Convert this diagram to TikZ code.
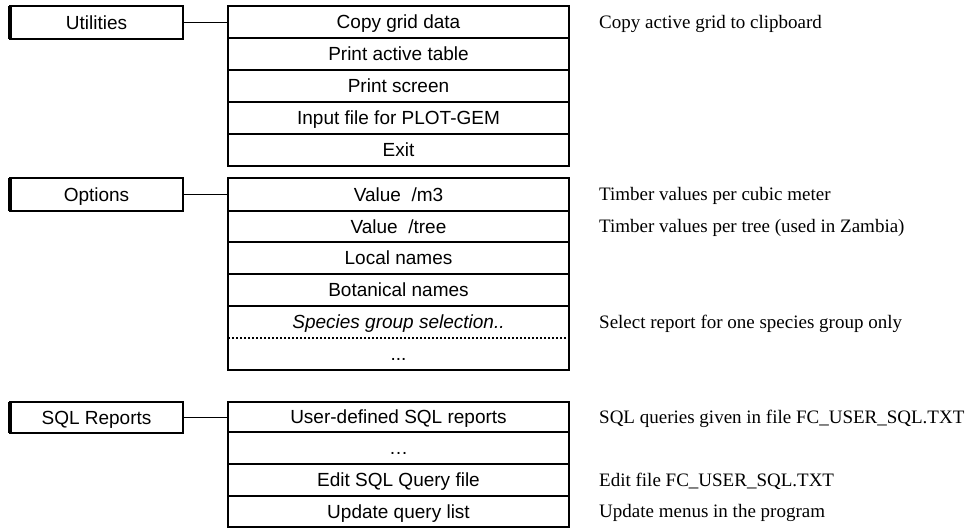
\documentclass[tikz,border=0pt]{standalone}
\usepackage{fontspec}
\setmainfont{Liberation Serif}
\setsansfont{Liberation Sans}
\tikzset{
  catbox/.style={draw, line width=1.6pt, minimum width=173pt, inner sep=0pt, outer sep=0pt,
    text height=13.6pt, text depth=0pt, font=\sffamily\fontsize{19}{22}\selectfont},
  menuitem/.style={draw, line width=1.5pt, minimum width=341pt, inner sep=0pt, outer sep=0pt,
    text height=13.6pt, text depth=0pt, font=\sffamily\fontsize{19}{22}\selectfont},
  note/.style={anchor=west, inner sep=0pt, text height=12.6pt, text depth=0pt,
    font=\fontsize{19}{22}\selectfont},
  link/.style={line width=1.1pt},
  thickedge/.style={line width=3.6pt},
}
\begin{document}
\begin{tikzpicture}[x=1pt,y=-1pt]
  \useasboundingbox (0,0) rectangle (976,529);
  % Utilities
  \node[catbox, minimum height=33pt] (util) at (96.5,22.5) {Utilities};
  \node[menuitem, minimum height=32pt] (copy) at (398.5,22) {Copy grid data};
  \node[menuitem, minimum height=32pt] (ptable) at (398.5,54) {Print active table};
  \node[menuitem, minimum height=32pt] (pscreen) at (398.5,86) {Print screen};
  \node[menuitem, minimum height=32pt] (plotgem) at (398.5,118) {Input file for PLOT-GEM};
  \node[menuitem, minimum height=32pt] (exit) at (398.5,150) {Exit};
  \draw[thickedge] (util.north west) -- (util.south west);
  \draw[line width=2.6pt] (copy.north west) -- (exit.south west);
  \draw[link] (util.east) -- (util.east -| copy.west);
  \node[note] (n-copy) at (599,22) {Copy active grid to clipboard};
  % Options
  \node[catbox, minimum height=33pt] (opt) at (96.5,194.5) {Options};
  \node[menuitem, minimum height=33pt] (vm3) at (398.5,194.5) {Value\ \ /m3};
  \node[menuitem, minimum height=31pt] (vtree) at (398.5,226.5) {Value\ \ /tree};
  \node[menuitem, minimum height=32pt] (local) at (398.5,258) {Local names};
  \node[menuitem, minimum height=32pt] (botan) at (398.5,290) {Botanical names};
  \node[menuitem, draw=none, minimum height=32pt] (spgroup) at (398.5,322) {\itshape Species group selection..};
  \node[menuitem, draw=none, minimum height=32pt] (optmore) at (398.5,354) {...};
  \draw[line width=1.5pt] (spgroup.north west) rectangle (optmore.south east);
  \draw[line width=2.2pt, dash pattern=on 2.2pt off 1.8pt] (spgroup.south west) -- (spgroup.south east);
  \draw[thickedge] (opt.north west) -- (opt.south west);
  \draw[line width=2.6pt] (vm3.north west) -- (optmore.south west);
  \draw[link] (opt.east) -- (opt.east -| vm3.west);
  \node[note] (n-vm3) at (599,194.5) {Timber values per cubic meter};
  \node[note] (n-vtree) at (599,226.5) {Timber values per tree (used in Zambia)};
  \node[note] (n-spgroup) at (599,322) {Select report for one species group only};
  % SQL Reports
  \node[catbox, minimum height=31pt] (sql) at (96.5,417.5) {SQL Reports};
  \node[menuitem, minimum height=30pt] (userdef) at (398.5,417) {User-defined SQL reports};
  \node[menuitem, minimum height=32pt] (sqlmore) at (398.5,448) {\dots};
  \node[menuitem, minimum height=32pt] (editsql) at (398.5,480) {Edit SQL Query file};
  \node[menuitem, minimum height=31pt] (update) at (398.5,511.5) {Update query list};
  \draw[thickedge] (sql.north west) -- (sql.south west);
  \draw[line width=2.6pt] (userdef.north west) -- (update.south west);
  \draw[link] (sql.east) -- (sql.east -| userdef.west);
  \node[note] (n-userdef) at (599,417) {SQL queries given in file FC\_USER\_SQL.TXT};
  \node[note] (n-editsql) at (599,480) {Edit file FC\_USER\_SQL.TXT};
  \node[note] (n-update) at (599,511.5) {Update menus in the program};
\end{tikzpicture}
\end{document}
